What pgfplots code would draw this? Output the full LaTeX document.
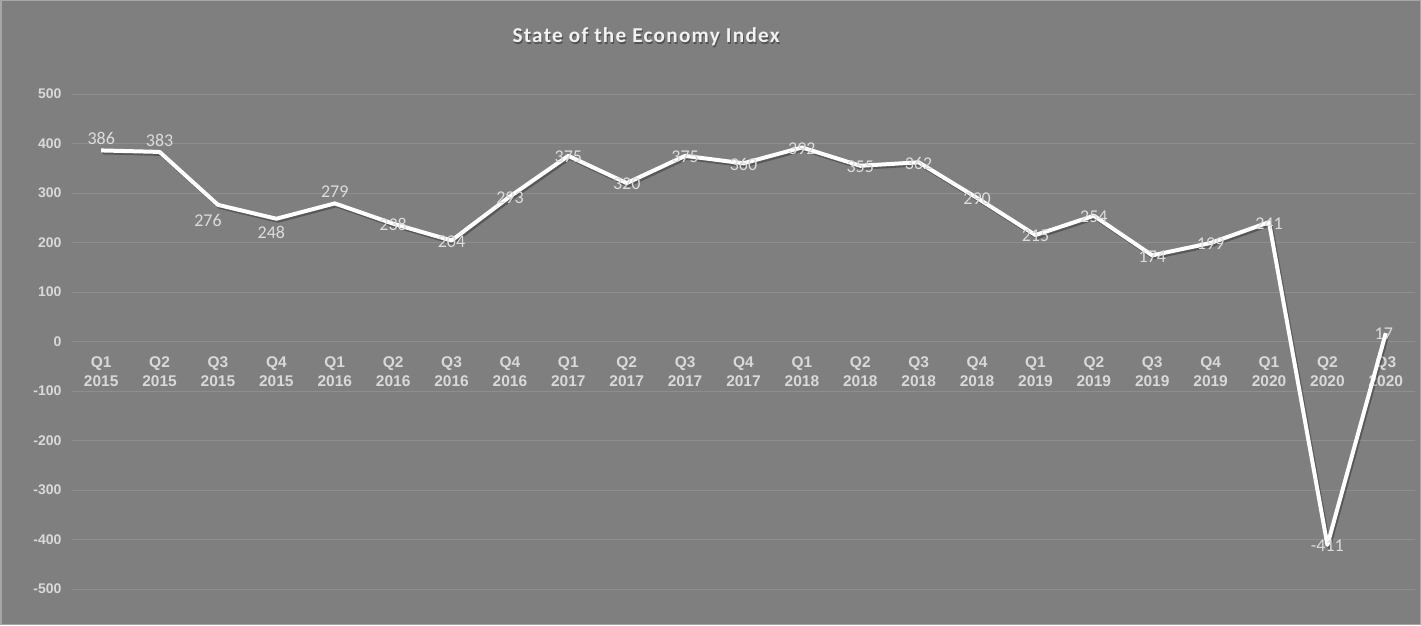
\documentclass[border=0pt]{standalone}
\usepackage{pgfplots}
\pgfplotsset{compat=1.18}
\usepackage{pgfplotstable}
\usepackage{fontspec}
\setmainfont{Carlito}
\newfontfamily\arialf{Liberation Sans}
\newfontfamily\titlef[LetterSpace=6]{Carlito}
\definecolor{bg}{HTML}{7F7F7F}
\definecolor{gridc}{HTML}{8E8E8E}
\definecolor{ticktxt}{HTML}{D9D9D9}
\definecolor{lbl}{HTML}{DCDCDC}
\definecolor{framec}{HTML}{A6A6A6}

\pgfplotstableread{
x y dx dy
0 386 0 12
1 383 0 12
2 276 -10 -16
3 248 -5 -14
4 279 0 12
5 238 0 -1
6 204 0 -1
7 293 0 -1
8 375 0 -1
9 320 0 -1
10 375 0 -1
11 360 0 -1
12 392 0 -1
13 355 0 -1
14 362 0 -1
15 290 0 -1
16 215 0 -1
17 254 0 -1
18 174 0 -1
19 199 0 -1
20 241 0 -1
21 -411 0 -1
22 17 -2 -1
}\sei

\begin{document}
\begin{tikzpicture}[x=1pt,y=1pt]
\useasboundingbox (0,0) rectangle (1421,625);
\fill[bg] (0,0) rectangle (1421,625);
\draw[framec, line width=1.5pt] (0.75,0.75) rectangle (1420.25,624.25);
\node[font=\titlef\bfseries\fontsize{21.2}{24}\selectfont, text=black, opacity=0.35] at (647,586.5) {State of the Economy Index};
\node[font=\titlef\bfseries\fontsize{21.2}{24}\selectfont, text=white!95!black] at (646,588) {State of the Economy Index};
\begin{axis}[
  at={(72pt,36pt)}, anchor=south west,
  scale only axis, width=1343pt, height=495pt,
  xmin=-0.5, xmax=22.5, ymin=-500, ymax=500,
  axis line style={draw=none},
  major tick length=0pt,
  ytick={-500,-400,...,500},
  ymajorgrids,
  major grid style={draw=gridc, line width=1pt},
  xtick={0,...,22},
  xticklabels={{Q1\\2015},{Q2\\2015},{Q3\\2015},{Q4\\2015},{Q1\\2016},{Q2\\2016},{Q3\\2016},{Q4\\2016},{Q1\\2017},{Q2\\2017},{Q3\\2017},{Q4\\2017},{Q1\\2018},{Q2\\2018},{Q3\\2018},{Q4\\2018},{Q1\\2019},{Q2\\2019},{Q3\\2019},{Q4\\2019},{Q1\\2020},{Q2\\2020},{Q3\\2020}},
  xticklabel style={align=center, anchor=center, yshift=217.5pt, text=ticktxt, font=\arialf\bfseries\fontsize{15.5}{18.6}\selectfont},
  yticklabel style={text=ticktxt, font=\arialf\bfseries\fontsize{14}{16}\selectfont, xshift=-7pt},
  /pgf/number format/assume math mode=true,
  clip=false,
]
\addplot[black, opacity=0.3, line width=4pt, line join=round, xshift=1.5pt, yshift=-2pt, forget plot] table[x=x,y=y] {\sei};
\addplot[white, line width=4pt, line join=round,
  visualization depends on={\thisrow{dx} \as \dx},
  visualization depends on={\thisrow{dy} \as \dy},
  nodes near coords={\pgfmathprintnumber[assume math mode=true]{\pgfplotspointmeta}},
  every node near coord/.append style={anchor=center, xshift=\dx pt, yshift=\dy pt, text=lbl, font=\fontsize{18}{20}\selectfont},
] table[x=x,y=y] {\sei};
\end{axis}
\end{tikzpicture}
\end{document}
